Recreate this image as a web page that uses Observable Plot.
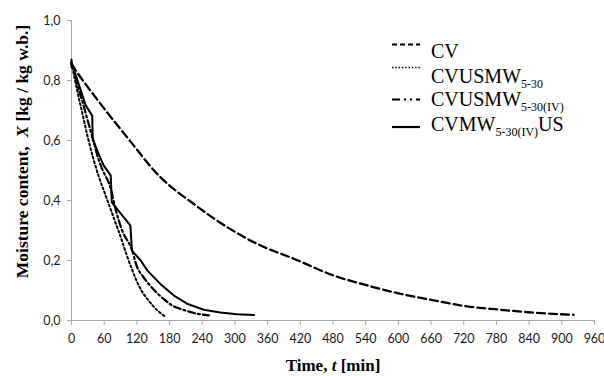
<!DOCTYPE html>
<html>
<head>
<meta charset="utf-8">
<script src="https://cdn.jsdelivr.net/npm/d3@7"></script>
<script src="https://cdn.jsdelivr.net/npm/@observablehq/plot@0.6"></script>
<style>
  html, body { margin: 0; padding: 0; background: #fff; }
  #chart { width: 604px; height: 376px; }
</style>
</head>
<body>
<div id="chart"></div>
<script>
// ---- data ----
const xTicks = [0, 60, 120, 180, 240, 300, 360, 420, 480, 540, 600, 660, 720, 780, 840, 900, 960];
const yTicks = [0, 0.2, 0.4, 0.6, 0.8, 1.0];

// CV (dashed)
const cvT = [0, 10, 50, 102, 163, 224, 286, 347, 408, 481, 543, 604, 665, 726, 787, 849, 922];
const cvX = [0.855, 0.828, 0.73, 0.611, 0.478, 0.389, 0.311, 0.25, 0.206, 0.15, 0.117, 0.089, 0.067, 0.047, 0.036, 0.026, 0.019];

// CVUSMW5-30 (dotted)
const usT = [0, 10, 20, 30, 40, 50, 60, 70, 80, 90, 100, 110, 120, 130, 140, 150, 160, 172];
const usX = [0.86, 0.77, 0.69, 0.61, 0.54, 0.48, 0.43, 0.38, 0.33, 0.28, 0.225, 0.175, 0.13, 0.095, 0.07, 0.048, 0.03, 0.013];

// CVUSMW5-30(IV) (dash-dot)
const ivT = [0, 10, 20, 30, 40, 50, 56, 72, 81, 93, 111, 120, 132, 145, 158, 169, 185, 203, 225, 252];
const ivX = [0.86, 0.79, 0.73, 0.665, 0.6, 0.535, 0.506, 0.44, 0.37, 0.3, 0.235, 0.18, 0.145, 0.115, 0.09, 0.072, 0.05, 0.037, 0.025, 0.017];

// CVMW5-30(IV)US (solid, stepped)
const mwT = [0, 0, 4, 13, 26, 38, 39, 47, 59, 72, 74, 81, 96, 108, 111, 127, 139, 163, 188, 212, 243, 273, 304, 335];
const mwX = [0.87, 0.845, 0.84, 0.789, 0.717, 0.683, 0.606, 0.567, 0.517, 0.483, 0.394, 0.378, 0.344, 0.317, 0.233, 0.2, 0.167, 0.122, 0.083, 0.056, 0.036, 0.027, 0.021, 0.018];

const toRows = (T, X) => T.map((t, i) => ({t, x: X[i]}));
const cv = toRows(cvT, cvX);
const us = toRows(usT, usX);
const iv = toRows(ivT, ivX);
const mw = toRows(mwT, mwX);

const axisGray = "#a6a6a6";
const tickFont = "Lato, 'Open Sans', sans-serif";
const fmt = d => d.toFixed(1).replace(".", ",");

const plot = Plot.plot({
  width: 604,
  height: 376,
  marginLeft: 71,
  marginRight: 10,
  marginTop: 20,
  marginBottom: 56,
  style: {background: "white", fontFamily: tickFont, fontSize: "12.5px", color: "#1a1a1a"},
  x: {domain: [0, 960]},
  y: {domain: [0, 1]},
  marks: [
    Plot.axisX({ticks: xTicks, tickSize: 5, tickPadding: 9, stroke: axisGray, fill: "#1a1a1a", label: null, fontSize: 12.5}),
    Plot.axisY({ticks: yTicks, tickSize: 4, tickPadding: 7, tickFormat: fmt, stroke: axisGray, fill: "#1a1a1a", label: null, fontSize: 12.5}),
    Plot.ruleX([0], {stroke: axisGray, strokeWidth: 1}),
    Plot.ruleY([0], {stroke: axisGray, strokeWidth: 1}),
    Plot.line(cv, {x: "t", y: "x", stroke: "black", strokeWidth: 2.3, strokeDasharray: "8,4", curve: "monotone-x"}),
    Plot.line(us, {x: "t", y: "x", stroke: "black", strokeWidth: 2, strokeDasharray: "2,2.6", curve: "monotone-x"}),
    Plot.line(iv, {x: "t", y: "x", stroke: "black", strokeWidth: 2.2, strokeDasharray: "7,3,2,3", curve: "monotone-x"}),
    Plot.line(mw, {x: "t", y: "x", stroke: "black", strokeWidth: 2, curve: "linear"})
  ]
});

document.getElementById("chart").appendChild(plot);

// ---- axis titles and legend added to the same SVG ----
const svg = d3.select(plot);
const serif = "'Liberation Serif', 'DejaVu Serif', serif";

const yl = svg.append("text")
  .attr("transform", "translate(28,151.5) rotate(-90)")
  .attr("text-anchor", "middle")
  .attr("font-family", serif).attr("font-size", 17.5).attr("font-weight", "bold").attr("fill", "black");
yl.append("tspan").text("Moisture content,  ");
yl.append("tspan").attr("font-style", "italic").text("X");
yl.append("tspan").text(" [kg / kg w.b.]");

const xl = svg.append("text")
  .attr("x", 333).attr("y", 371)
  .attr("text-anchor", "middle")
  .attr("font-family", serif).attr("font-size", 17).attr("font-weight", "bold").attr("fill", "black");
xl.append("tspan").text("Time, ");
xl.append("tspan").attr("font-style", "italic").text("t");
xl.append("tspan").text(" [min]");

const legendItems = [
  {main: "CV", sub: "", tail: "", dash: "5,3", width: 2.2, lineY: 44.5, baseY: 58},
  {main: "CVUSMW", sub: "5-30", tail: "", dash: "1.5,1.8", width: 1.6, lineY: 67.5, baseY: 83},
  {main: "CVUSMW", sub: "5-30(IV)", tail: "", dash: "8,4,2,4,2,4", width: 2.2, lineY: 99.5, baseY: 106},
  {main: "CVMW", sub: "5-30(IV)", tail: "US", dash: null, width: 2.2, lineY: 127, baseY: 131}
];
const lg = svg.append("g").attr("text-anchor", "start");
legendItems.forEach(it => {
  lg.append("line")
    .attr("x1", 392).attr("x2", 420).attr("y1", it.lineY).attr("y2", it.lineY)
    .attr("stroke", "black").attr("stroke-width", it.width)
    .attr("stroke-dasharray", it.dash);
  const t = lg.append("text")
    .attr("x", 431).attr("y", it.baseY)
    .attr("text-anchor", "start")
    .attr("font-family", serif).attr("font-size", 20).attr("fill", "black");
  t.append("tspan").text(it.main);
  if (it.sub) t.append("tspan").attr("font-size", 12).attr("dy", 4.5).text(it.sub);
  if (it.tail) t.append("tspan").attr("dy", -4.5).text(it.tail);
});
</script>
</body>
</html>
